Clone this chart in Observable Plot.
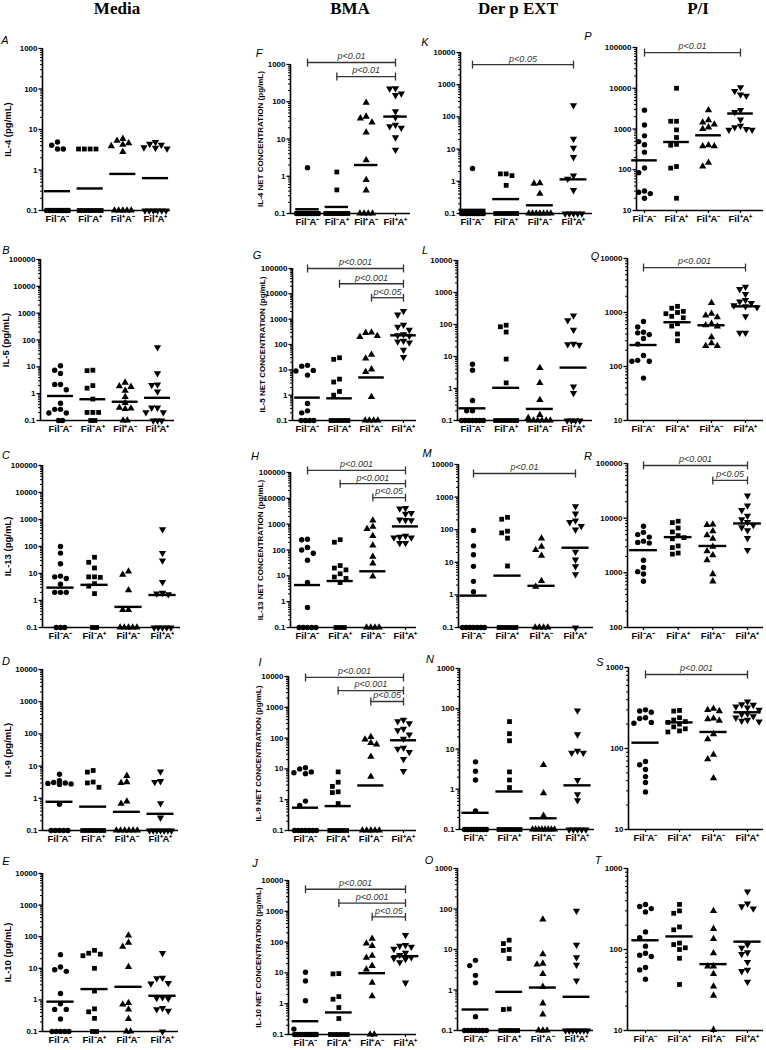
<!DOCTYPE html>
<html><head><meta charset="utf-8">
<script src="https://cdn.jsdelivr.net/npm/d3@7"></script>
<script src="https://cdn.jsdelivr.net/npm/@observablehq/plot@0.6"></script>
<style>
body{margin:0;background:#fff;}
#fig{position:relative;width:766px;height:1050px;overflow:hidden;font-family:"Liberation Sans",Arial,sans-serif;background:#fff;}
.hdr{position:absolute;font-family:"Liberation Serif","Times New Roman",serif;font-weight:bold;font-size:17px;transform:translate(-50%,-50%);white-space:nowrap;line-height:1;}
.let{position:absolute;font-style:italic;font-size:11px;line-height:1;transform:translate(-50%,-50%);}
.pan{position:absolute;}
.pan g[aria-label$="tick label"], .pan g[aria-label$="tick label"] text{font-weight:bold;}
</style></head><body><div id="fig"></div>
<script>
// ---------------- categories / labels ----------------
const CATS = ["Fil⁻A⁻", "Fil⁻A⁺", "Fil⁺A⁻", "Fil⁺A⁺"];
const HEADERS = ["Media", "BMA", "Der p EXT", "P/I"];
const LETTERS = [["A","F","K","P"],["B","G","L","Q"],["C","H","M","R"],["D","I","N","S"],["E","J","O","T"]];
const MEDIA_YLABELS = ["IL-4 (pg/mL)", "IL-5 (pg/mL)", "IL-13 (pg/mL)", "IL-9 (pg/mL)", "IL-10 (pg/mL)"];
const BMA_YLABELS = ["IL-4 NET CONCENTRATION (pg/mL)", "IL-5 NET CONCENTRATION (pg/mL)", "IL-13 NET CONCENTRATION (pg/mL)", "IL-9 NET CONCENTRATION (pg/mL)", "IL-10 NET CONCENTRATION (pg/mL)"];

// ---------------- IL-4 ----------------
const media_il4 = [
 [4.9, 4.1, 3.3, 3.3, 0.1, 0.1, 0.1, 0.1, 0.1, 0.1, 0.1, 0.1, 0.1],
 [3.3, 3.3, 3.3, 3.3, 0.1, 0.1, 0.1, 0.1, 0.1, 0.1, 0.1],
 [5.9, 5.3, 4.6, 4.2, 3.9, 2.8, 0.1, 0.1, 0.1, 0.1, 0.1],
 [4.9, 4.4, 4.2, 3.6, 3.5, 3.4, 0.1, 0.1, 0.1, 0.1, 0.1, 0.1]];
const media_il4_gm = [0.3, 0.35, 0.8, 0.63];
const bma_il4 = [
 [1.7, 0.1, 0.1, 0.1, 0.1, 0.1, 0.1, 0.1, 0.1, 0.1, 0.1, 0.1],
 [1.3, 0.43, 0.1, 0.1, 0.1, 0.1, 0.1, 0.1, 0.1, 0.1, 0.1],
 [94, 40, 36, 28, 15, 2.7, 0.8, 0.42, 0.1, 0.1, 0.1, 0.1],
 [230, 225, 165, 150, 55, 38, 24, 22, 20, 11, 5.1]];
const bma_il4_gm = [0.13, 0.15, 2.0, 40];
const bma_il4_p = [[0, 3, 1130, "p<0.01"], [1, 3, 475, "p<0.01"]];
const derp_il4 = [
 [2.5, 0.1, 0.1, 0.1, 0.1, 0.1, 0.1, 0.1, 0.1, 0.1, 0.1, 0.1],
 [1.7, 1.7, 1.5, 0.75, 0.1, 0.1, 0.1, 0.1, 0.1, 0.1],
 [0.88, 0.85, 0.41, 0.1, 0.1, 0.1, 0.1, 0.1, 0.1, 0.1],
 [230, 21, 11, 5.6, 1.5, 1.2, 0.53, 0.1, 0.1, 0.1, 0.1, 0.1]];
const derp_il4_gm = [0.13, 0.28, 0.18, 1.15];
const derp_il4_p = [[0, 3, 4200, "p<0.05"]];
const pi_il4 = [
 [2900, 1250, 680, 490, 410, 270, 110, 85, 30, 28, 26, 20],
 [10000, 1550, 1550, 950, 620, 420, 400, 120, 110, 20],
 [2900, 1650, 1450, 1300, 1100, 1000, 400, 380, 380, 150, 120],
 [10500, 8500, 7000, 6500, 2900, 2600, 1700, 1200, 1100, 1000, 950, 950]];
const pi_il4_gm = [170, 480, 700, 2400];
const pi_il4_p = [[0, 3, 75000, "p<0.01"]];

// ---------------- IL-5 ----------------
const media_il5 = [
 [11, 7.5, 5.7, 2.2, 2.2, 1.4, 0.44, 0.26, 0.26, 0.19, 0.19, 0.1, 0.1],
 [7.5, 7.2, 2.0, 1.6, 0.63, 0.2, 0.2, 0.2, 0.1, 0.1],
 [2.6, 1.9, 1.8, 1.3, 0.75, 0.45, 0.3, 0.28, 0.27, 0.1, 0.1],
 [53, 5.7, 2.2, 2.1, 1.2, 0.3, 0.3, 0.2, 0.2, 0.1, 0.1, 0.1]];
const media_il5_gm = [0.82, 0.62, 0.5, 0.7];
const bma_il5 = [
 [15, 14, 9.5, 9, 6.2, 0.47, 0.24, 0.2, 0.1, 0.1, 0.1, 0.1],
 [30, 26, 4.3, 3.3, 1.4, 1.0, 0.1, 0.1, 0.1, 0.1, 0.1],
 [300, 290, 220, 200, 40, 28, 10.5, 8.3, 0.86, 0.1, 0.1, 0.1, 0.1],
 [2100, 1500, 600, 500, 380, 250, 230, 220, 140, 130, 120, 62, 32]];
const bma_il5_gm = [0.8, 0.75, 5, 230];
const bma_il5_p = [[0, 3, 100000, "p<0.001"], [1, 3, 25000, "p<0.001"], [2, 3, 7000, "p<0.05"]];
const derp_il5 = [
 [5.7, 3.7, 0.42, 0.2, 0.2, 0.1, 0.1, 0.1, 0.1, 0.1, 0.1, 0.1],
 [95, 85, 58, 8.3, 1.5, 0.1, 0.1, 0.1, 0.1, 0.1, 0.1],
 [4.4, 1.5, 0.44, 0.15, 0.12, 0.1, 0.1, 0.1, 0.1, 0.1, 0.1],
 [190, 135, 68, 25, 24, 23, 1.15, 0.72, 0.1, 0.1, 0.1, 0.1]];
const derp_il5_gm = [0.24, 1.05, 0.23, 4.5];
const derp_il5_p = [];
const pi_il5 = [
 [680, 540, 430, 420, 390, 330, 260, 160, 130, 125, 125, 61],
 [1300, 1200, 1050, 1000, 950, 850, 800, 620, 560, 400, 300],
 [1500, 950, 880, 820, 620, 580, 550, 350, 270, 240, 240],
 [3000, 2700, 2200, 1700, 1600, 1500, 1350, 1300, 1250, 850, 420, 420]];
const pi_il5_gm = [250, 660, 580, 1300];
const pi_il5_p = [[0, 3, 6800, "p<0.001"]];

// ---------------- IL-13 ----------------
const media_il13 = [
 [100, 57, 23, 8, 7.5, 6.5, 4, 2, 2, 2, 0.1, 0.1, 0.1],
 [40, 26, 16, 7.5, 7.5, 7.2, 4.2, 3.4, 1.8, 0.1, 0.1],
 [12, 9, 2.4, 0.45, 0.45, 0.1, 0.1, 0.1, 0.1, 0.1],
 [430, 57, 30, 4.8, 1.9, 1.8, 1.7, 0.1, 0.1, 0.1, 0.1, 0.1]];
const media_il13_gm = [3, 3.8, 0.58, 1.6];
const bma_il13 = [
 [260, 250, 125, 100, 75, 40, 5.5, 0.6, 0.1, 0.1, 0.1, 0.1, 0.1],
 [250, 200, 25, 20, 17, 12, 9, 8, 5.5, 0.1, 0.1, 0.1],
 [1400, 800, 650, 350, 150, 55, 30, 9.5, 0.1, 0.1, 0.1, 0.1],
 [4200, 4000, 2700, 2500, 1500, 1450, 1400, 350, 320, 300, 300, 185, 185]];
const bma_il13_gm = [4.4, 6.3, 15, 820];
const bma_il13_p = [[0, 3, 120000, "p<0.001"], [1, 3, 37000, "p<0.001"], [2, 3, 10700, "p<0.05"]];
const derp_il13 = [
 [95, 32, 17, 7.5, 2.6, 1.25, 0.1, 0.1, 0.1, 0.1, 0.1, 0.1, 0.1],
 [240, 210, 90, 80, 55, 7.7, 0.1, 0.1, 0.1, 0.1, 0.1],
 [54, 30, 24, 16, 2.7, 1.8, 0.1, 0.1, 0.1, 0.1],
 [520, 310, 190, 170, 130, 100, 21, 12, 7.5, 4.3, 0.1]];
const derp_il13_gm = [0.95, 3.9, 1.9, 28];
const derp_il13_p = [[0, 3, 5300, "p<0.01"]];
const pi_il13 = [
 [7100, 5500, 5000, 4500, 3800, 3600, 3500, 1700, 1250, 1050, 950, 700],
 [8800, 8300, 6600, 5600, 4800, 4400, 4200, 3100, 2900, 2300, 2200],
 [7700, 7500, 5800, 4900, 4200, 3000, 2500, 2100, 1700, 950, 700],
 [26000, 17000, 14000, 11000, 9500, 8500, 7500, 6800, 6000, 4300, 2600]];
const pi_il13_gm = [2600, 4500, 3100, 8000];
const pi_il13_p = [[0, 3, 92000, "p<0.001"], [2, 3, 49000, "p<0.05"]];

// ---------------- IL-9 ----------------
const media_il9 = [
 [5.6, 3.5, 3.1, 3, 2.9, 2.8, 2.7, 0.65, 0.1, 0.1, 0.1, 0.1, 0.1],
 [7.3, 6.5, 3.2, 3.0, 2.2, 0.1, 0.1, 0.1, 0.1, 0.1, 0.1],
 [5, 3.2, 3, 0.8, 0.68, 0.1, 0.1, 0.1, 0.1, 0.1, 0.1],
 [6.8, 3.4, 3.2, 0.7, 0.25, 0.1, 0.1, 0.1, 0.1, 0.1, 0.1, 0.1]];
const media_il9_gm = [0.78, 0.55, 0.38, 0.33];
const bma_il9 = [
 [11, 10, 8, 7.5, 7, 0.9, 0.65, 0.1, 0.1, 0.1, 0.1, 0.1, 0.1, 0.1],
 [8, 3.7, 2.7, 1.8, 1.7, 0.75, 0.1, 0.1, 0.1, 0.1, 0.1],
 [110, 90, 70, 62, 25, 5.6, 0.1, 0.1, 0.1, 0.1, 0.1],
 [390, 350, 300, 200, 180, 130, 95, 48, 45, 35, 21, 8.5]];
const bma_il9_gm = [0.55, 0.62, 2.9, 85];
const bma_il9_p = [[0, 3, 9300, "p<0.001"], [1, 3, 3500, "p<0.001"], [2, 3, 1540, "p<0.05"]];
const derp_il9 = [
 [4.8, 2.8, 1.7, 0.29, 0.1, 0.1, 0.1, 0.1, 0.1, 0.1, 0.1, 0.1],
 [48, 24, 16, 2.7, 1.7, 1.1, 0.1, 0.1, 0.1, 0.1, 0.1, 0.1],
 [4, 0.8, 0.22, 0.1, 0.1, 0.1, 0.1, 0.1, 0.1, 0.1, 0.1],
 [90, 23, 9, 8, 8, 1.7, 0.75, 0.53, 0.1, 0.1, 0.1, 0.1, 0.1]];
const derp_il9_gm = [0.26, 0.88, 0.19, 1.25];
const derp_il9_p = [];
const pi_il9 = [
 [300, 290, 280, 240, 235, 210, 205, 69, 63, 55, 45, 38, 29],
 [295, 290, 240, 225, 215, 210, 200, 185, 175, 165, 160],
 [310, 300, 290, 235, 230, 220, 150, 130, 84, 74, 43],
 [380, 350, 345, 330, 320, 300, 270, 265, 250, 240, 225, 220, 215]];
const pi_il9_gm = [118, 210, 160, 280];
const pi_il9_p = [[0, 3, 820, "p<0.001"]];

// ---------------- IL-10 ----------------
const media_il10 = [
 [27, 11, 9, 8, 1.6, 0.75, 0.5, 0.5, 0.25, 0.1, 0.1, 0.1, 0.1, 0.1],
 [37, 30, 28, 25, 10, 1.9, 0.52, 0.42, 0.26, 0.1, 0.1],
 [110, 65, 48, 11, 0.8, 0.72, 0.5, 0.25, 0.1, 0.1],
 [30, 5, 4.8, 3.4, 3.3, 1.2, 1.15, 1.1, 0.55, 0.5, 0.45, 0.1]];
const media_il10_gm = [0.88, 2.2, 2.6, 1.35];
const bma_il10 = [
 [10.5, 5.5, 1.25, 0.15, 0.1, 0.1, 0.1, 0.1, 0.1, 0.1, 0.1, 0.1, 0.1],
 [9.5, 9.3, 1.7, 1.4, 0.75, 0.33, 0.1, 0.1, 0.1, 0.1, 0.1],
 [130, 90, 75, 36, 31, 17, 13, 4.8, 1.75, 0.1, 0.1],
 [170, 80, 75, 70, 60, 45, 38, 32, 30, 28, 22, 4.8]];
const bma_il10_gm = [0.27, 0.52, 9.8, 35];
const bma_il10_p = [[0, 3, 5200, "p<0.001"], [1, 3, 1850, "p<0.001"], [2, 3, 660, "p<0.05"]];
const derp_il10 = [
 [5.4, 4, 2.3, 1.5, 0.22, 0.1, 0.1, 0.1, 0.1, 0.1, 0.1, 0.1],
 [17, 14, 10, 9.5, 6, 0.34, 0.33, 0.1, 0.1, 0.1, 0.1, 0.1],
 [55, 7.7, 4.5, 4.3, 2.5, 1.2, 0.47, 0.25, 0.1, 0.1, 0.1],
 [90, 13, 6.4, 4.2, 1.7, 0.1, 0.1, 0.1, 0.1, 0.1, 0.1, 0.1]];
const derp_il10_gm = [0.33, 0.9, 1.15, 0.68];
const derp_il10_p = [];
const pi_il10 = [
 [360, 340, 320, 290, 165, 140, 110, 90, 85, 82, 60, 56, 43],
 [360, 300, 280, 190, 175, 120, 115, 105, 100, 78, 37],
 [300, 180, 135, 90, 62, 62, 50, 35, 27, 10.2],
 [520, 370, 340, 320, 115, 105, 92, 88, 70, 56, 54, 40]];
const pi_il10_gm = [130, 145, 66, 125];
const pi_il10_p = [];

// y-domains per panel [lo, hi]
const DOMAINS = [
 [[0.1, 1000], [0.1, 1000], [0.1, 10000], [10, 100000]],
 [[0.1, 100000], [0.1, 100000], [0.1, 10000], [10, 10000]],
 [[0.1, 100000], [0.1, 100000], [0.1, 10000], [100, 100000]],
 [[0.1, 10000], [0.1, 10000], [0.1, 1000], [10, 1000]],
 [[0.1, 10000], [0.1, 10000], [0.1, 1000], [10, 1000]]];

const DATA = [
 [[media_il4, media_il4_gm, []], [bma_il4, bma_il4_gm, bma_il4_p], [derp_il4, derp_il4_gm, derp_il4_p], [pi_il4, pi_il4_gm, pi_il4_p]],
 [[media_il5, media_il5_gm, []], [bma_il5, bma_il5_gm, bma_il5_p], [derp_il5, derp_il5_gm, derp_il5_p], [pi_il5, pi_il5_gm, pi_il5_p]],
 [[media_il13, media_il13_gm, []], [bma_il13, bma_il13_gm, bma_il13_p], [derp_il13, derp_il13_gm, derp_il13_p], [pi_il13, pi_il13_gm, pi_il13_p]],
 [[media_il9, media_il9_gm, []], [bma_il9, bma_il9_gm, bma_il9_p], [derp_il9, derp_il9_gm, derp_il9_p], [pi_il9, pi_il9_gm, pi_il9_p]],
 [[media_il10, media_il10_gm, []], [bma_il10, bma_il10_gm, bma_il10_p], [derp_il10, derp_il10_gm, derp_il10_p], [pi_il10, pi_il10_gm, pi_il10_p]]];

// ---------------- layout (pixels) ----------------
// per panel: [axisX, firstCat, lastCat, axisEnd, yTop, yBottom]
const BOXES = [
 [[42, 57, 155, 170, 48, 210], [290, 307, 395, 410, 64, 213], [460, 472, 573, 592, 52, 213], [636, 644, 740, 763, 47, 210]],
 [[40, 60, 157, 174, 259, 420], [292, 307, 403, 416, 268, 420], [457, 472, 573, 592, 260, 420], [627, 643, 745, 763, 258, 420]],
 [[42, 60, 162, 180, 465, 627], [290, 307, 405, 416, 472, 627], [458, 473, 575, 593, 464, 627], [627, 643, 747, 763, 463, 627]],
 [[42, 59, 160, 178, 669, 830], [288, 305, 403, 416, 676, 830], [459, 475, 577, 594, 668, 829], [628, 645, 747, 763, 667, 829]],
 [[42, 60, 162, 178, 873, 1031], [288, 305, 405, 416, 880, 1034], [457, 475, 576, 593, 868, 1030], [627, 645, 747, 763, 868, 1030]]];
const LETTER_POS = [
 [[5, 40], [259, 53], [425, 42], [588, 36]],
 [[6, 250], [257, 255], [425, 250], [595, 256]],
 [[6, 455], [255, 456], [427, 453], [588, 456]],
 [[6, 661], [260, 662], [430, 659], [600, 662]],
 [[6, 861], [255, 863], [429, 860], [598, 860]]];
const HEADER_X = [117, 350, 518, 698];

const triDown = {draw(ctx, size) {
  const y = -Math.sqrt(size / (Math.sqrt(3) * 3));
  ctx.moveTo(0, -y * 2); ctx.lineTo(-Math.sqrt(3) * y, y); ctx.lineTo(Math.sqrt(3) * y, y); ctx.closePath();
}};
const vbar = {draw(ctx) { ctx.moveTo(0, -4); ctx.lineTo(0, 4); }};

// deterministic Prism-like scatter arrangement
function swarm(vals, lo, hi, h, unit) {
  const L0 = Math.log10(lo), L1 = Math.log10(hi);
  const py = v => (Math.log10(v) - L0) / (L1 - L0) * h;
  const placed = [];
  const floor = vals.filter(v => v === lo);
  const rest = vals.filter(v => v !== lo).sort((a, b) => b - a);
  const nf = floor.length;
  const span = Math.min(22, 4.2 * (nf - 1));
  floor.forEach((v, k) => placed.push({v, px: nf > 1 ? -span / 2 + span * k / (nf - 1) : 0, py: 0}));
  const d = 5.8;
  const cands = [0, -d, d, -2 * d, 2 * d];
  for (const v of rest) {
    const y = py(v);
    let best = 0, bestC = Infinity;
    for (const c of cands) {
      let col = 0;
      for (const p of placed) { const dist = Math.hypot(p.px - c, p.py - y); if (dist < d) col += d - dist; }
      if (col === 0) { best = c; bestC = 0; break; }
      if (col < bestC - 1e-9) { bestC = col; best = c; }
    }
    placed.push({v, px: best, py: y});
  }
  return placed.map(p => ({v: p.v, dx: p.px / unit}));
}

const fig = document.getElementById("fig");
HEADERS.forEach((t, j) => {
  const el = document.createElement("div"); el.className = "hdr"; el.textContent = t;
  el.style.left = HEADER_X[j] + "px"; el.style.top = "8px"; fig.appendChild(el);
});

const ML = 46, MR = 6, MT = 24, MB = 26;
for (let r = 0; r < 5; r++) {
  for (let c = 0; c < 4; c++) {
    const [vals, gm, pv] = DATA[r][c];
    const [lo, hi] = DOMAINS[r][c];
    const [x0, c0, c3, x1, yTop, yBot] = BOXES[r][c];
    const s = (c3 - c0) / 3;
    const xa = -(c0 - x0) / s, xb = 3 + (x1 - c3) / s;
    const w = x1 - x0, h = yBot - yTop;
    const pts = [];
    vals.forEach((arr, g) => swarm(arr, lo, hi, h, s).forEach(p => pts.push({x: g + p.dx, y: p.v, g: "g" + g})));
    const gms = gm.map((v, i) => ({i, v}));
    const brk = pv.map(([from, to, y, label]) => ({from, to, y, label}));
    const ends = brk.flatMap(b => [{x: b.from, y: b.y}, {x: b.to, y: b.y}]);
    const L0 = Math.round(Math.log10(lo)), L1 = Math.round(Math.log10(hi));
    const major = d3.range(L0, L1 + 1).map(e => Math.pow(10, e));
    const minor = d3.range(L0, L1).flatMap(e => d3.range(2, 10).map(k => k * Math.pow(10, e)));
    const ylab = c === 0 ? MEDIA_YLABELS[r] : c === 1 ? BMA_YLABELS[r] : null;
    const marks = [
      Plot.axisY({ticks: minor, tickSize: 2, text: null, label: null, strokeWidth: 1}),
      Plot.axisY({ticks: major, tickFormat: d => d < 1 ? "0.1" : String(Math.round(d)), tickSize: 3.5, tickPadding: 1.5,
                  fontSize: 8, fontWeight: "bold", label: null, strokeWidth: 1.3}),
      Plot.axisX({ticks: [0, 1, 2, 3], tickFormat: i => CATS[i], tickSize: 3, tickPadding: 2, fontSize: 9.5, fontWeight: "bold", label: null, strokeWidth: 1.2}),
      Plot.ruleX([xa], {strokeWidth: 1.6}),
      Plot.ruleY([lo], {strokeWidth: 1.6}),
      Plot.dot(pts, {x: "x", y: "y", symbol: "g", r: 2.7, fill: "black", stroke: "none"}),
      Plot.ruleY(gms, {x1: d => d.i - 0.4, x2: d => d.i + 0.4, y: "v", strokeWidth: 2.4, stroke: "black"}),
      Plot.ruleY(brk, {x1: "from", x2: "to", y: "y", stroke: "#333", strokeWidth: 1.3}),
      Plot.dot(ends, {x: "x", y: "y", symbol: vbar, stroke: "#333", strokeWidth: 1.3, fill: "none", r: 3}),
      Plot.text(brk, {x: d => (d.from + d.to) / 2, y: "y", text: "label", dy: -6, fontStyle: "italic", fontSize: 9, fill: "#333"})
    ];
    if (ylab) marks.push(Plot.text([ylab], {frameAnchor: "left", textAnchor: "middle", rotate: -90, dx: c === 0 ? -35 : -30,
                                              fontSize: c === 0 ? 9.5 : 8, fontWeight: "bold", text: d => d}));
    const chart = Plot.plot({
      width: ML + w + MR, height: MT + h + MB,
      marginLeft: ML, marginRight: MR, marginTop: MT, marginBottom: MB,
      x: {type: "linear", domain: [xa, xb], axis: null},
      y: {type: "log", domain: [lo, hi], axis: null},
      symbol: {domain: ["g0", "g1", "g2", "g3"], range: [d3.symbolCircle, d3.symbolSquare, d3.symbolTriangle, triDown]},
      style: {background: "transparent", overflow: "visible", fontFamily: "'Liberation Sans', Arial, sans-serif", color: "black"},
      marks
    });
    chart.classList.add("pan");
    chart.style.position = "absolute";
    chart.style.left = (x0 - ML) + "px";
    chart.style.top = (yTop - MT) + "px";
    chart.style.maxWidth = "none";
    fig.appendChild(chart);
    const le = document.createElement("div"); le.className = "let"; le.textContent = LETTERS[r][c];
    le.style.left = LETTER_POS[r][c][0] + "px"; le.style.top = LETTER_POS[r][c][1] + "px"; fig.appendChild(le);
  }
}
</script></body></html>
